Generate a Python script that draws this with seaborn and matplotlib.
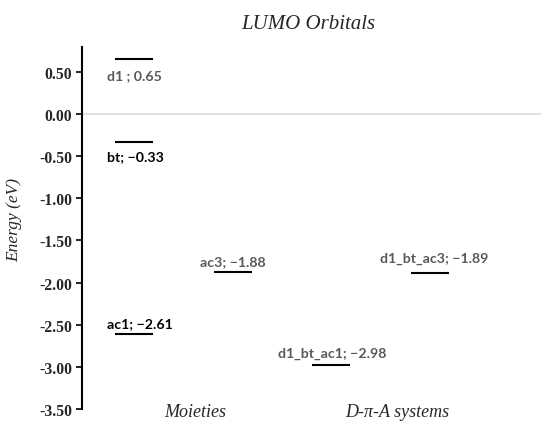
import pandas as pd
import seaborn as sns
import matplotlib.pyplot as plt

# LUMO levels (eV)
names = ['d1', 'bt', 'ac1', 'ac3', 'd1_bt_ac1', 'd1_bt_ac3']
slots = [1, 1, 1, 2, 3, 4]
energies = [0.65, -0.33, -2.61, -1.88, -2.98, -1.89]
label_texts = ['d1 ; 0.65', 'bt; \u22120.33', 'ac1; \u22122.61',
               'ac3; \u22121.88', 'd1_bt_ac1; \u22122.98', 'd1_bt_ac3; \u22121.89']
group_names = ['Moieties', 'D-\u03c0-A systems']
group_slots = [1.62, 3.67]
yticks = [0.5, 0.0, -0.5, -1.0, -1.5, -2.0, -2.5, -3.0, -3.5]

df = pd.DataFrame({'name': names, 'slot': slots, 'energy': energies})

sns.set_style('white')
plt.rcParams['font.family'] = ['Liberation Serif', 'DejaVu Serif']

fig = plt.figure(figsize=(5.5, 4.31), dpi=100)
ax = fig.add_axes([0.149, 0.049, 0.835, 0.840])

ax.axhline(0, color='#d9d9d9', lw=1.2, zorder=0)
sns.scatterplot(data=df, x='slot', y='energy', marker='_', s=760,
                color='black', linewidth=1.5, ax=ax, legend=False, zorder=3)

# label offsets in pixels (negative = below the level)
offsets = [-16, -14, 10.5, 11, 12.5, 15]
colors = ['#595959', 'black', 'black', '#595959', '#595959', '#595959']
shifts = [0, 1, 6, 0, 1, 4]
for x, y, t, dy, c, dx in zip(slots, energies, label_texts, offsets, colors, shifts):
    ax.annotate(t, (x, y), xytext=(dx * 0.72, dy * 0.72), textcoords='offset points',
                ha='center', va='center', fontsize=10.2, fontweight='bold',
                color=c, family=['Lato', 'DejaVu Sans'])

for gx, gn in zip(group_slots, group_names):
    ax.text(gx, -3.535, gn, ha='center', va='center', fontsize=13,
            style='italic', clip_on=False)

ax.set_xlim(0.472, 5.13)
ax.set_ylim(-3.5, 0.8)
ax.set_yticks(yticks)
ax.set_yticklabels([f'{v:.2f}' for v in yticks], fontweight='bold', fontsize=11.3)
ax.set_xticks([])
ax.set_xlabel('')
ax.set_ylabel('Energy (eV)', style='italic', fontsize=12.5)
ax.yaxis.set_label_coords(-0.13, 0.525)
ax.tick_params(axis='y', direction='out', length=4, width=1.2, color='black',
               left=True, pad=3)
for side in ['top', 'right', 'bottom']:
    ax.spines[side].set_visible(False)
ax.spines['left'].set_color('black')
ax.spines['left'].set_linewidth(1.5)

fig.text(0.561, 0.942, 'LUMO Orbitals', ha='center', va='center',
         fontsize=15, style='italic')

fig.savefig('out.png', dpi=100)
